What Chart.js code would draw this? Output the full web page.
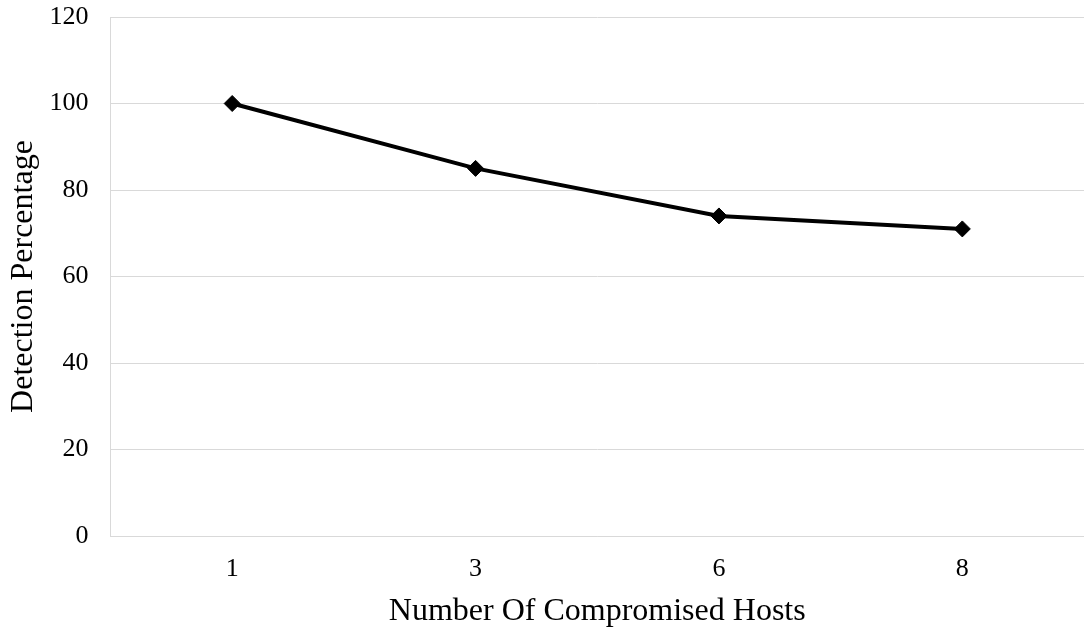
<!DOCTYPE html>
<html>
<head>
<meta charset="utf-8">
<style>
  html, body { margin: 0; padding: 0; background: #ffffff; overflow: hidden; }
  #wrap { position: relative; width: 1093px; height: 628px; }
</style>
<script src="https://cdn.jsdelivr.net/npm/chart.js@4/dist/chart.umd.min.js"></script>
</head>
<body>
<div id="wrap"><canvas id="chart"></canvas></div>
<script>
// Detection rate against the number of compromised hosts
const hostCounts = ['1', '3', '6', '8'];
const detectionPercent = [100, 85, 74, 71];
const yTicks = [0, 20, 40, 60, 80, 100, 120];

const serif = "'Liberation Serif', 'Times New Roman', serif";
const gridGray = '#d9d9d9';

new Chart(document.getElementById('chart'), {
  type: 'line',
  data: {
    labels: hostCounts,
    datasets: [{
      label: 'Detection Percentage',
      data: detectionPercent,
      borderColor: '#000000',
      backgroundColor: '#000000',
      borderWidth: 4,
      pointStyle: 'rectRot',
      pointRadius: 8,
      pointBorderWidth: 1,
      pointBackgroundColor: '#000000',
      pointBorderColor: '#000000',
      tension: 0,
      fill: false
    }]
  },
  options: {
    responsive: true,
    maintainAspectRatio: false,
    animation: false,
    layout: { padding: { top: 17, right: 0, bottom: 0, left: 0 } },
    plugins: {
      legend: { display: false },
      tooltip: { enabled: false }
    },
    scales: {
      x: {
        type: 'category',
        offset: true,
        grid: { display: false, drawTicks: false },
        border: { display: true, color: gridGray, width: 1 },
        ticks: {
          color: '#000000',
          font: { family: serif, size: 26 },
          padding: 18,
          maxRotation: 0
        },
        title: {
          display: true,
          text: 'Number Of Compromised Hosts',
          color: '#000000',
          font: { family: serif, size: 32 },
          padding: { top: 4, bottom: -3 }
        },
        afterFit(scale) {
          scale.height = 92;
          scale.paddingLeft = 0;
          scale.paddingRight = 0;
        }
      },
      y: {
        min: 0,
        max: 120,
        afterBuildTicks(scale) {
          scale.ticks = yTicks.map(v => ({ value: v }));
        },
        grid: { color: gridGray, lineWidth: 1, drawTicks: false },
        border: { display: true, color: gridGray, width: 1 },
        ticks: {
          color: '#000000',
          font: { family: serif, size: 26 },
          padding: 22
        },
        title: {
          display: true,
          text: 'Detection Percentage',
          color: '#000000',
          font: { family: serif, size: 32 },
          padding: { top: 4, bottom: 0 }
        },
        afterFit(scale) {
          scale.width = 110.5;
          scale.paddingTop = 0;
          scale.paddingBottom = 0;
        }
      }
    }
  }
});
</script>
</body>
</html>
